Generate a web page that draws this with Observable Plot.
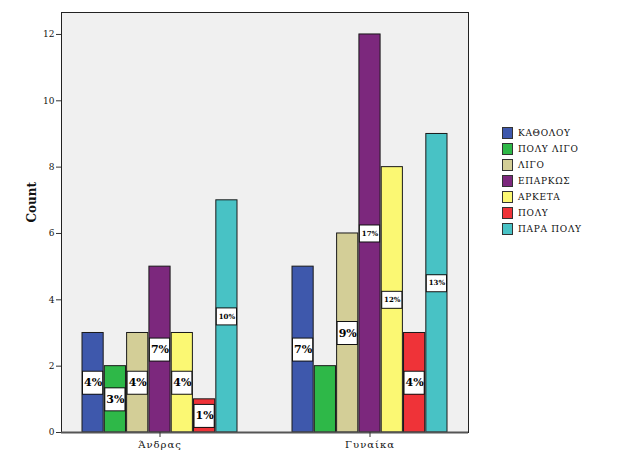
<!DOCTYPE html>
<html>
<head>
<meta charset="utf-8">
<script src="https://cdn.jsdelivr.net/npm/d3@7"></script>
<script src="https://cdn.jsdelivr.net/npm/@observablehq/plot@0.6"></script>
<style>
  body { margin: 0; background: #fff; }
  #wrap { position: relative; width: 624px; height: 459px; }
  #legend { position: absolute; left: 502px; top: 125px; font-family: "DejaVu Serif", serif; font-size: 9px; letter-spacing: 0.7px; color: #111; }
  .row { display: flex; align-items: center; height: 16px; }
  .sw { width: 11px; height: 12px; border: 1px solid #333; margin-right: 5px; box-sizing: border-box; }
</style>
</head>
<body>
<div id="wrap"><div id="legend"></div></div>
<script>
const sexes = ["Άνδρας", "Γυναίκα"];
const categories = ["ΚΑΘΟΛΟΥ", "ΠΟΛΥ ΛΙΓΟ", "ΛΙΓΟ", "ΕΠΑΡΚΩΣ", "ΑΡΚΕΤΑ", "ΠΟΛΥ", "ΠΑΡΑ ΠΟΛΥ"];
const colors = ["#3E58AC", "#2EB848", "#D3CE97", "#7C287D", "#FBF873", "#EF3338", "#48C2C5"];
const countsMen = [3, 2, 3, 5, 3, 1, 7];
const countsWomen = [5, 2, 6, 12, 8, 3, 9];
const pctMen = ["4%", "3%", "4%", "7%", "4%", "1%", "10%"];
const pctWomen = ["7%", "", "9%", "17%", "12%", "4%", "13%"];
const yTicks = [0, 2, 4, 6, 8, 10, 12];

const data = [];
categories.forEach((c, i) => {
  data.push({sex: sexes[0], cat: c, i, count: countsMen[i], pct: pctMen[i]});
  data.push({sex: sexes[1], cat: c, i, count: countsWomen[i], pct: pctWomen[i]});
});
const labels = data.filter(d => d.pct !== "");

const W = 624, H = 459, mL = 61, mR = 156, mT = 12, mB = 27;
const pIn = 0.26, pOut = 0.0945;
const plotW = W - mL - mR;
const step = plotW / (2 - pIn + 2 * pOut);
const bw = step * (1 - pIn);
const slot = bw / categories.length;
const n = categories.length;

const marks = [Plot.frame({fill: "#f0f0f0"})];
categories.forEach((c, i) => {
  const inL = i * slot, inR = (n - 1 - i) * slot;
  marks.push(Plot.barY(data.filter(d => d.i === i), {
    x: "sex", y: "count", fill: colors[i], stroke: "#1a1a1a", strokeWidth: 1,
    insetLeft: inL, insetRight: inR
  }));
  const lab = labels.filter(d => d.i === i);
  marks.push(Plot.tickY(lab, {
    x: "sex", y: d => d.count / 2, stroke: "#111",
    strokeWidth: d => d.pct.length > 2 ? 18 : 24,
    insetLeft: inL, insetRight: inR
  }));
  marks.push(Plot.tickY(lab, {
    x: "sex", y: d => d.count / 2, stroke: "#fff",
    strokeWidth: d => d.pct.length > 2 ? 16 : 22,
    insetLeft: inL + 1, insetRight: inR + 1
  }));
  marks.push(Plot.text(lab, {
    x: "sex", y: d => d.count / 2, text: "pct",
    dx: -bw / 2 + (i + 0.5) * slot,
    fontSize: d => d.pct.length > 2 ? 7 : 11, fontWeight: "bold",
    fontFamily: "DejaVu Serif", fill: "#000"
  }));
});
marks.push(Plot.frame({stroke: "#222", strokeWidth: 1}));
marks.push(Plot.ruleY([0], {stroke: "#555", strokeWidth: 2}));
marks.push(Plot.axisY({ticks: yTicks, tickSize: 5, tickPadding: 2, fontSize: 9, fontFamily: "DejaVu Serif", label: null, stroke: "#333"}));
marks.push(Plot.axisX({tickSize: 5, tickPadding: 3, fontSize: 10, fontFamily: "DejaVu Serif", label: null, stroke: "#333"}));
marks.push(Plot.text(["Count"], {frameAnchor: "left", rotate: -90, dx: -29, text: d => d, fontWeight: "bold", fontSize: 12, fontFamily: "DejaVu Serif", fill: "#111"}));

const chart = Plot.plot({
  width: W, height: H,
  marginLeft: mL, marginRight: mR, marginTop: mT, marginBottom: mB,
  style: {fontFamily: "DejaVu Serif", background: "#fff", color: "#111"},
  x: {domain: sexes, paddingInner: pIn, paddingOuter: pOut, axis: null},
  y: {domain: [0, (H - mT - mB) / 33.17], axis: null},
  marks
});
chart.querySelectorAll("g[aria-label='x-axis tick label'] text").forEach(t => t.setAttribute("letter-spacing", "1"));
const wrap = document.getElementById("wrap");
wrap.insertBefore(chart, wrap.firstChild);

const legend = document.getElementById("legend");
categories.forEach((c, i) => {
  const row = document.createElement("div");
  row.className = "row";
  const sw = document.createElement("div");
  sw.className = "sw";
  sw.style.background = colors[i];
  const t = document.createElement("span");
  t.textContent = c;
  row.appendChild(sw);
  row.appendChild(t);
  legend.appendChild(row);
});
</script>
</body>
</html>
